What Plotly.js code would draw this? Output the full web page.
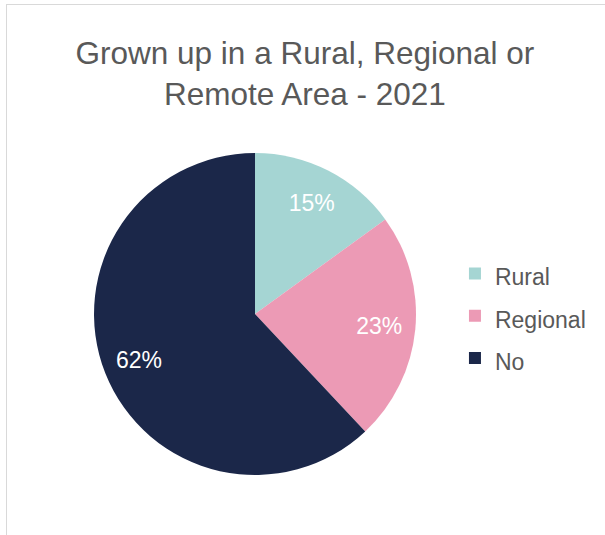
<!DOCTYPE html>
<html>
<head>
<meta charset="utf-8">
<script src="https://cdn.plot.ly/plotly-3.0.1.min.js"></script>
<style>
  html, body { margin: 0; padding: 0; background: #ffffff; }
  #chart { position: absolute; left: 0; top: 0; width: 605px; height: 535px; }
  #frame { position: absolute; left: 6px; top: 4px; width: 640px; height: 600px;
           border: 1px solid #d9d9d9; pointer-events: none; }
</style>
</head>
<body>
<div id="chart"></div>
<div id="frame"></div>
<script>
const categories = ["Rural", "Regional", "No"];
const shares = [15, 23, 62];
const sliceColors = ["#a5d5d3", "#ec9ab5", "#1b2749"];

const FONT = "'Liberation Sans', Arial, sans-serif";
const pieDomain = { x: [0.1554, 0.6876], y: [0.1121, 0.7140] };

// legend labels (row spacing comes from the legend font size; the visible text is 23px)
const legendLabels = categories.map(c => '<span style="font-size:23px">' + c + '</span>');

const pieTrace = {
  type: "pie",
  labels: legendLabels,
  values: shares,
  sort: false,
  direction: "clockwise",
  rotation: 0,
  marker: { colors: sliceColors, line: { width: 0 } },
  textinfo: "none",
  hoverinfo: "none",
  domain: pieDomain
};

// transparent ring carrying the percentage labels so they sit toward the rim
const labelTrace = {
  type: "pie",
  labels: legendLabels,
  values: shares,
  sort: false,
  direction: "clockwise",
  rotation: 0,
  hole: 0.55,
  showlegend: false,
  marker: { colors: ["rgba(0,0,0,0)", "rgba(0,0,0,0)", "rgba(0,0,0,0)"], line: { width: 0 } },
  texttemplate: "%{percent:.0%}",
  textposition: "inside",
  insidetextorientation: "horizontal",
  textfont: { family: FONT, size: 23, color: "#ffffff" },
  hoverinfo: "none",
  domain: pieDomain
};

const layout = {
  width: 605,
  height: 535,
  margin: { l: 0, r: 0, t: 0, b: 0 },
  paper_bgcolor: "rgba(0,0,0,0)",
  plot_bgcolor: "rgba(0,0,0,0)",
  title: {
    text: "Grown up in a Rural, Regional or<br>Remote Area - 2021",
    font: { family: FONT, size: 31.5, color: "#595959" },
    x: 0.504, xanchor: "center",
    y: 1 - 64 / 535, yref: "container", yanchor: "top"
  },
  showlegend: true,
  legend: {
    x: 0.752, xanchor: "left",
    y: 0.4095, yanchor: "middle",
    font: { family: FONT, size: 30.2, color: "#595959" },
    bgcolor: "rgba(0,0,0,0)",
    itemwidth: 30
  }
};

Plotly.newPlot("chart", [pieTrace, labelTrace], layout, { displayModeBar: false, staticPlot: true });
</script>
</body>
</html>
